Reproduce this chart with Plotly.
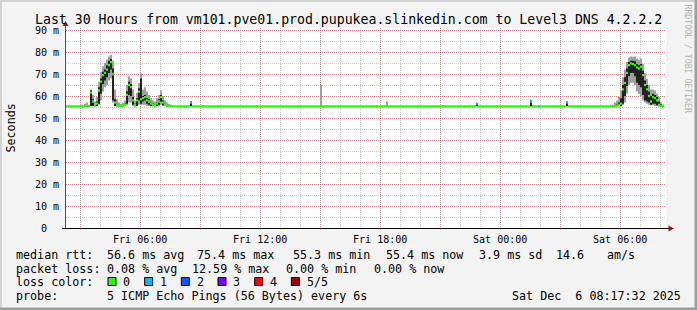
import pandas as pd
import plotly.graph_objects as go

# ---------------- data ----------------
T_START = "2025-12-05 02:17:32"
T_END = "2025-12-06 08:17:32"
STEP_MINUTES = 6
N_SAMPLES = 299
BASELINE_RTT = 55.3  # ms, flat median outside the bursts

# burst 1 (Fri ~03:11 .. ~07:30)
BURST1_START = "2025-12-05 03:11:32"
BURST1_MEDIAN = [55.4, 55.5, 55.4, 61.5, 57.5, 55.8, 56.5, 62.5, 66.5, 69.5, 70.5, 72.0, 74.0, 75.4,
                 70.0, 57.0, 56.0, 55.6, 55.5, 55.6, 56.0, 60.5, 65.0, 64.0, 58.0, 55.8, 58.0, 62.0,
                 58.5, 59.0, 59.5, 58.0, 57.5, 56.5, 56.0, 55.8, 56.5, 57.5, 59.5, 57.0, 56.0, 55.6, 55.5, 55.4]
BURST1_LO = [55.3, 55.3, 55.3, 55.5, 55.4, 55.3, 55.4, 56.5, 61.0, 65.5, 67.0, 68.5, 70.5, 72.0,
             58.0, 55.5, 55.3, 55.3, 55.3, 55.3, 55.4, 56.5, 60.5, 60.0, 56.0, 55.3, 55.5, 58.0,
             56.5, 57.5, 58.0, 56.5, 56.0, 55.5, 55.4, 55.3, 55.5, 56.0, 57.5, 55.8, 55.4, 55.3, 55.3, 55.3]
BURST1_HI = [55.5, 55.8, 55.5, 62.5, 58.5, 56.2, 57.5, 64.0, 68.0, 71.0, 72.0, 74.0, 76.0, 76.8,
             72.5, 58.5, 56.5, 55.8, 55.6, 55.8, 56.5, 62.0, 66.5, 65.5, 59.5, 56.5, 59.0, 63.5,
             68.0, 60.0, 60.5, 59.0, 58.5, 57.0, 56.5, 56.2, 57.0, 58.5, 60.5, 58.0, 56.5, 55.8, 55.6, 55.5]
BURST1_MIN = [55.3, 55.3, 55.3, 55.5, 55.4, 55.3, 55.4, 56.0, 58.0, 62.0, 64.0, 65.0, 67.0, 68.0,
              57.0, 55.3, 55.3, 55.3, 55.3, 55.3, 55.3, 55.8, 57.0, 57.0, 55.5, 55.3, 55.3, 56.0,
              56.0, 56.0, 56.0, 55.5, 55.5, 55.3, 55.3, 55.3, 55.3, 55.5, 56.0, 55.5, 55.3, 55.3, 55.3, 55.3]
BURST1_MAX = [56.5, 57.0, 56.0, 63.0, 60.5, 57.5, 59.5, 66.5, 71.0, 73.5, 75.0, 76.5, 78.0, 78.6,
              76.0, 63.0, 58.5, 57.0, 56.5, 57.0, 58.0, 65.0, 69.0, 68.0, 63.0, 58.0, 61.5, 66.0,
              70.3, 63.0, 64.0, 62.0, 60.5, 59.0, 58.0, 57.5, 59.0, 60.5, 62.5, 60.0, 58.0, 57.0, 56.5, 56.0]

# burst 2 (Sat ~05:35 .. ~08:10)
BURST2_START = "2025-12-06 05:35:32"
BURST2_MEDIAN = [55.4, 55.5, 55.6, 56.0, 56.5, 63.0, 66.0, 70.5, 74.0, 74.8, 74.5, 74.0, 73.0,
                 72.5, 73.3, 69.5, 65.0, 63.0, 60.0, 57.5, 59.5, 59.0, 58.0, 56.0, 55.5, 55.5]
BURST2_LO = [55.3, 55.3, 55.3, 55.4, 55.5, 56.5, 60.0, 64.5, 69.0, 70.5, 70.5, 69.0, 66.0,
             65.0, 64.0, 60.5, 58.0, 57.5, 57.0, 56.0, 56.5, 56.5, 55.8, 55.3, 55.3, 55.3]
BURST2_HI = [55.5, 55.8, 56.2, 57.0, 59.0, 65.0, 68.5, 72.5, 75.5, 76.0, 76.0, 75.8, 74.5,
             74.0, 74.5, 71.5, 67.0, 65.0, 62.0, 60.0, 61.0, 60.5, 59.5, 57.5, 56.3, 55.8]
BURST2_MIN = [55.3, 55.3, 55.3, 55.3, 55.4, 55.8, 57.0, 61.0, 65.0, 66.0, 66.0, 65.0, 62.0,
              61.0, 60.0, 58.0, 57.0, 56.5, 56.0, 55.8, 55.8, 55.5, 55.4, 55.3, 55.3, 55.3]
BURST2_MAX = [56.0, 57.0, 58.0, 59.5, 62.5, 68.5, 72.0, 75.5, 77.5, 78.0, 77.8, 78.0, 77.0,
              76.5, 77.0, 74.5, 70.5, 68.0, 65.0, 63.0, 63.0, 62.5, 61.0, 59.5, 57.0, 56.0]

# isolated single-sample events
EVENT_TIMES = ["2025-12-05 08:29:32", "2025-12-05 14:59:32", "2025-12-05 18:17:32",
               "2025-12-05 22:47:32", "2025-12-06 01:29:32", "2025-12-06 01:53:32",
               "2025-12-06 03:17:32"]
EVENT_MEDIAN = [57.0, 55.3, 55.3, 56.3, 57.5, 55.3, 57.0]
EVENT_HI = [57.5, 55.3, 55.3, 56.8, 58.2, 55.3, 57.4]
EVENT_MAX = [57.6, 65.0, 57.5, 57.0, 58.3, 55.3, 57.5]
EVENT_LOSS = [1, 0, 0, 1, 1, 1, 1]

LOSS_COLORS = ["#26ff00", "#00b8ff", "#0059ff", "#7e00ff", "#ff0000", "#a00000"]
LOSS_LABELS = ["0", "1", "2", "3", "4", "5/5"]

X_GRID_TIMES = ["2025-12-05 03:00", "2025-12-05 06:00", "2025-12-05 09:00", "2025-12-05 12:00",
                "2025-12-05 15:00", "2025-12-05 18:00", "2025-12-05 21:00", "2025-12-06 00:00",
                "2025-12-06 03:00", "2025-12-06 06:00"]
X_TICK_LABELS = ["", "Fri 06:00", "", "Fri 12:00", "", "Fri 18:00", "", "Sat 00:00", "", "Sat 06:00"]
Y_TICK_VALUES = [0, 10, 20, 30, 40, 50, 60, 70, 80, 90]
Y_TICK_LABELS = ["0\u00a0\u00a0", "10 m", "20 m", "30 m", "40 m", "50 m", "60 m", "70 m", "80 m", "90 m"]

RTT_STATS = [("median rtt:", 16), ("56.6 ms avg", 107), ("75.4 ms max", 197), ("55.3 ms min", 293),
             ("55.4 ms now", 386), ("3.9 ms sd", 479), ("14.6", 556), ("am/s", 607)]
LOSS_STATS = [("packet loss:", 16), ("0.08 % avg", 107), ("12.59 % max", 192), ("0.00 % min", 286),
              ("0.00 % now", 374)]

TITLE = "Last 30 Hours from vm101.pve01.prod.pupukea.slinkedin.com to Level3 DNS 4.2.2.2"
PROBE = "5 ICMP Echo Pings (56 Bytes) every 6s"
STAMP = "Sat Dec  6 08:17:32 2025"

# ---------------- build series ----------------
t0 = pd.Timestamp(T_START)
step = pd.Timedelta(minutes=STEP_MINUTES)
times = [t0 + step * i for i in range(N_SAMPLES + 1)]
median = [BASELINE_RTT] * N_SAMPLES
lo = [BASELINE_RTT] * N_SAMPLES
hi = [BASELINE_RTT] * N_SAMPLES
mn = [BASELINE_RTT] * N_SAMPLES
mx = [BASELINE_RTT] * N_SAMPLES
loss = [0] * N_SAMPLES


def idx(ts):
    return int(round((pd.Timestamp(ts) - t0) / step))


for start, M, L_, H_, MN, MX in [(BURST1_START, BURST1_MEDIAN, BURST1_LO, BURST1_HI, BURST1_MIN, BURST1_MAX),
                                 (BURST2_START, BURST2_MEDIAN, BURST2_LO, BURST2_HI, BURST2_MIN, BURST2_MAX)]:
    i0 = idx(start)
    for k in range(len(M)):
        median[i0 + k], lo[i0 + k], hi[i0 + k], mn[i0 + k], mx[i0 + k] = M[k], L_[k], H_[k], MN[k], MX[k]

for ts, m, h, x, ls in zip(EVENT_TIMES, EVENT_MEDIAN, EVENT_HI, EVENT_MAX, EVENT_LOSS):
    i = idx(ts)
    median[i], hi[i], mx[i], loss[i] = m, h, x, ls

fig = go.Figure()

# outer smoke
fig.add_scatter(x=times, y=mn + [mn[-1]], mode="lines", line=dict(width=0, shape="hv"), hoverinfo="skip")
fig.add_scatter(x=times, y=mx + [mx[-1]], mode="lines", line=dict(width=0, shape="hv"),
                fill="tonexty", fillcolor="#a0a0a0", hoverinfo="skip")
# inner smoke
fig.add_scatter(x=times, y=lo + [lo[-1]], mode="lines", line=dict(width=0, shape="hv"), hoverinfo="skip")
fig.add_scatter(x=times, y=hi + [hi[-1]], mode="lines", line=dict(width=0, shape="hv"),
                fill="tonexty", fillcolor="#222222", hoverinfo="skip")

# median coloured by loss
for k, col in enumerate(LOSS_COLORS):
    xs, ys = [], []
    for i in range(N_SAMPLES):
        if loss[i] == k:
            xs += [times[i], times[i + 1], None]
            ys += [median[i], median[i], None]
    if xs:
        fig.add_scatter(x=xs, y=ys, mode="lines", line=dict(color=col, width=2.3), hoverinfo="skip")

# ---------------- layout ----------------
W, H = 697, 310
PL, PT, PW, PH = 66, 28, 600, 200
MONO = "DejaVu Sans Mono"
MGRID = "rgba(235,60,60,0.45)"
GRID = "rgba(140,140,140,0.45)"


def px(x):
    return (x - PL) / PW


def py(y):
    return (PT + PH - y) / PH


fig.update_layout(width=W, height=H, margin=dict(l=PL, r=W - PL - PW, t=PT, b=H - PT - PH, pad=0),
                  paper_bgcolor="#f3f3f3", plot_bgcolor="#ffffff", showlegend=False, hovermode=False,
                  font=dict(family=MONO, size=10, color="#000000"))
fig.update_xaxes(type="date", range=[T_START, T_END], tickmode="array", tickvals=X_GRID_TIMES,
                 ticktext=X_TICK_LABELS, showgrid=True, gridcolor=MGRID, griddash="1px,1px", gridwidth=1,
                 ticks="", showline=True, linecolor="#000000", linewidth=1, zeroline=False,
                 minor=dict(dtick=3600000, showgrid=True, gridcolor=GRID, griddash="1px,1px", gridwidth=1),
                 tickfont=dict(family=MONO, size=10, color="#000"), ticklabelstandoff=2)
fig.update_yaxes(range=[0, PH / 2.2], tickmode="array", tickvals=Y_TICK_VALUES, ticktext=Y_TICK_LABELS,
                 showgrid=True, gridcolor=MGRID, griddash="1px,1px", gridwidth=1,
                 minor=dict(dtick=5, showgrid=True, gridcolor=GRID, griddash="1px,1px", gridwidth=1),
                 showline=True, linecolor="#505050", linewidth=1, zeroline=False, ticks="",
                 tickfont=dict(family=MONO, size=10, color="#000"), ticklabelstandoff=4)


def txt(s, x, y, size=11.7, anchor="left", color="#000000", angle=0):
    fig.add_annotation(text=s.replace(" ", "\u00a0"), x=px(x), y=py(y), xref="paper", yref="paper",
                       xanchor=anchor, yanchor="middle", showarrow=False, textangle=angle,
                       font=dict(family=MONO, size=size, color=color), borderpad=0, borderwidth=0)


txt(TITLE, 348, 19, size=13.2, anchor="center")
txt("RRDTOOL / TOBI OETIKER", 687.5, 59, size=8.2, anchor="center", color="#b4b4b4", angle=90)
txt("Seconds", 10.5, 128, size=11.7, anchor="center", angle=-90)

for s, x in RTT_STATS:
    txt(s, x, 255)
for s, x in LOSS_STATS:
    txt(s, x, 268.5)
txt("loss color:", 16, 282)
for k, (lab, col) in enumerate(zip(LOSS_LABELS, LOSS_COLORS)):
    bx = 108 + 36.67 * k
    fig.add_shape(type="rect", xref="paper", yref="paper", x0=px(bx), x1=px(bx + 8), y0=py(277.5), y1=py(285.5),
                  fillcolor=col, line=dict(color="#000000", width=1))
    txt(lab, bx + 15.3, 282)
txt("probe:", 16, 296)
txt(PROBE, 107, 296)
txt(STAMP, 681, 296, anchor="right")

# axis extensions and arrows
AX_RED = "#8b1a1a"
fig.add_shape(type="line", xref="paper", yref="paper", x0=px(62), x1=px(669), y0=py(228.5), y1=py(228.5),
              line=dict(color="#000000", width=1))
fig.add_shape(type="line", xref="paper", yref="paper", x0=px(65.5), x1=px(65.5), y0=py(228), y1=py(25),
              line=dict(color="#505050", width=1))
fig.add_shape(type="path", xref="paper", yref="paper",
              path=f"M {px(65.5)},{py(21)} L {px(62.5)},{py(26)} L {px(68.5)},{py(26)} Z",
              fillcolor=AX_RED, line=dict(width=0))
fig.add_shape(type="path", xref="paper", yref="paper",
              path=f"M {px(674)},{py(228.5)} L {px(668.5)},{py(225.5)} L {px(668.5)},{py(231.5)} Z",
              fillcolor=AX_RED, line=dict(width=0))

# 3D frame
fig.add_shape(type="rect", xref="paper", yref="paper", x0=px(0), x1=px(W), y0=py(0), y1=py(2),
              fillcolor="#d2d2d2", line=dict(width=0))
fig.add_shape(type="rect", xref="paper", yref="paper", x0=px(0), x1=px(2), y0=py(0), y1=py(H),
              fillcolor="#d2d2d2", line=dict(width=0))
fig.add_shape(type="rect", xref="paper", yref="paper", x0=px(0), x1=px(W), y0=py(H - 2.5), y1=py(H),
              fillcolor="#9e9e9e", line=dict(width=0))
fig.add_shape(type="rect", xref="paper", yref="paper", x0=px(W - 2.5), x1=px(W), y0=py(0), y1=py(H),
              fillcolor="#9e9e9e", line=dict(width=0))

fig.write_html("out.html")
